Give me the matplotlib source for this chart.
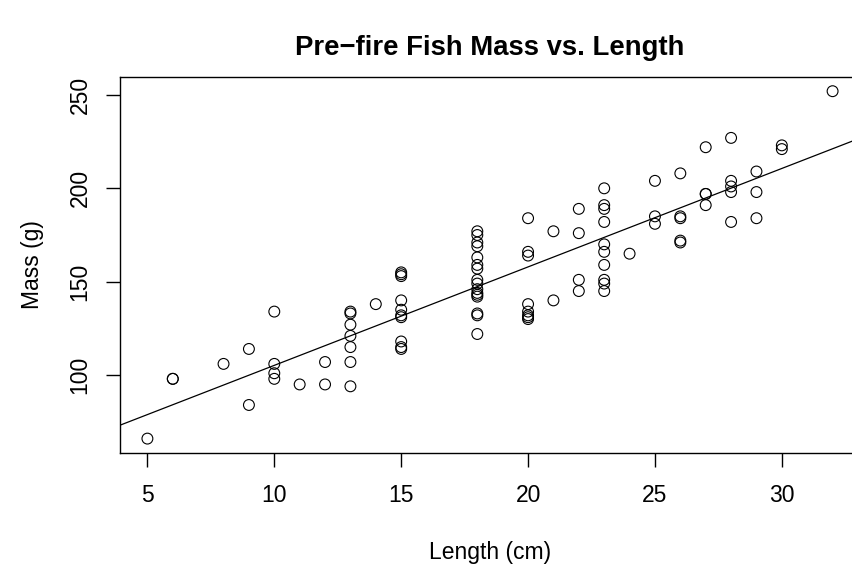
import numpy as np
import matplotlib
matplotlib.use("Agg")
import matplotlib.pyplot as plt

length_cm = [5, 6, 6, 8, 9, 9, 10, 10, 10, 10, 11, 12, 12,
             13, 13, 13, 13, 13, 13, 13, 14,
             15, 15, 15, 15, 15, 15, 15, 15, 15, 15,
             18, 18, 18, 18, 18, 18, 18, 18, 18, 18, 18, 18, 18, 18, 18, 18,
             20, 20, 20, 20, 20, 20, 20, 20, 21, 21,
             22, 22, 22, 22,
             23, 23, 23, 23, 23, 23, 23, 23, 23, 23, 24,
             25, 25, 25, 26, 26, 26, 26, 26,
             27, 27, 27, 27, 28, 28, 28, 28, 28,
             29, 29, 29, 30, 30, 32]
mass_g = [66, 98, 98, 106, 114, 84, 134, 106, 101, 98, 95, 107, 95,
          134, 133, 127, 121, 115, 107, 94, 138,
          155, 154, 153, 140, 135, 132, 131, 118, 115, 114,
          177, 175, 171, 169, 163, 159, 157, 151, 149, 146, 144, 143, 142, 133, 132, 122,
          184, 166, 164, 138, 134, 132, 131, 130, 177, 140,
          189, 176, 151, 145,
          200, 191, 189, 182, 170, 166, 159, 151, 149, 145, 165,
          204, 185, 181, 208, 185, 184, 172, 171,
          222, 197, 197, 191, 227, 204, 201, 198, 182,
          209, 198, 184, 223, 221, 252]

x_ticks = [5, 10, 15, 20, 25, 30]
y_ticks = [100, 150, 200, 250]

plt.rcParams['font.family'] = ['Liberation Sans', 'DejaVu Sans']

x = np.array(length_cm, dtype=float)
y = np.array(mass_g, dtype=float)

# base-R style axis range: data range padded by 4%
def r_range(v):
    pad = 0.04 * (v.max() - v.min())
    return v.min() - pad, v.max() + pad

fig = plt.figure(figsize=(8.52, 5.67), dpi=100)
ax = fig.add_axes([120 / 852, 1 - 452.5 / 567, 740 / 852, 375.2 / 567])

ax.scatter(x, y, s=7.8 ** 2, facecolors='none', edgecolors='black', linewidths=0.8)

# least-squares line, like abline(lm(...))
slope, intercept = np.polyfit(x, y, 1)
ax.axline((0, intercept), slope=slope, color='black', linewidth=0.9)

ax.set_xlim(*r_range(x))
ax.set_ylim(*r_range(y))
ax.set_xticks(x_ticks)
ax.set_yticks(y_ticks)
ax.set_yticklabels([str(t) for t in y_ticks], rotation=90, va='center')
ax.tick_params(direction='out', length=10, width=1.0, labelsize=16.5)
ax.tick_params(axis='x', pad=13)
ax.tick_params(axis='y', pad=10.5)
for sp in ax.spines.values():
    sp.set_linewidth(1.0)

fig.text(490 / 852, 1 - 48 / 567, "Pre\u2212fire Fish Mass vs. Length",
         ha='center', va='center', fontsize=19.8, fontweight='bold')
fig.text(490 / 852, 1 - 553 / 567, "Length (cm)", ha='center', va='center', fontsize=16.5)
fig.text(33 / 852, 1 - 265 / 567, "Mass (g)", ha='center', va='center',
         fontsize=16.5, rotation=90)

fig.savefig("out.png", dpi=100)
